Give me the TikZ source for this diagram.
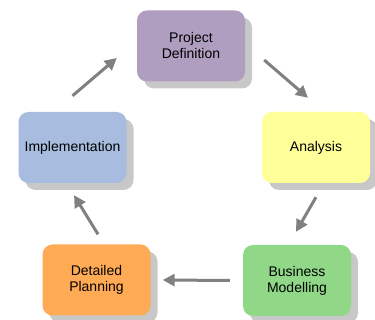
\documentclass[tikz,border=0pt]{standalone}
\usepackage{fontspec}
\setmainfont{Liberation Sans}
\usetikzlibrary{arrows.meta,shadows}

\definecolor{cproj}{RGB}{176,158,192}
\definecolor{cana}{RGB}{255,255,153}
\definecolor{cbus}{RGB}{144,216,136}
\definecolor{cdet}{RGB}{255,170,85}
\definecolor{cimp}{RGB}{168,188,224}
\definecolor{cshadow}{RGB}{200,200,200}
\definecolor{carrow}{RGB}{128,128,128}

\begin{document}
\begin{tikzpicture}[x=1pt,y=1pt,
  phase/.style={rounded corners=10pt,minimum width=108pt,minimum height=71pt,
    align=center,font=\fontsize{14}{16}\selectfont,
    drop shadow={shadow xshift=7pt,shadow yshift=-7pt,fill=cshadow,opacity=1}},
  flow/.style={carrow,line width=3pt,-{Triangle[length=12pt,width=12pt]}}]
  \useasboundingbox (0,0) rectangle (375,320);
  \node[phase,fill=cproj] (proj) at (191,274) {Project\\Definition};
  \node[phase,fill=cana] (ana) at (316,172.5) {Analysis};
  \node[phase,fill=cbus] (bus) at (297,39.5) {Business\\Modelling};
  \node[phase,fill=cdet] (det) at (96.5,40) {Detailed\\Planning};
  \node[phase,fill=cimp] (imp) at (72.5,172.5) {Implementation};
  \draw[flow] ([yshift=16pt]imp.north) -- ([xshift=-20pt,yshift=-12pt]proj.west);
  \draw[flow] ([xshift=19pt,yshift=-14pt]proj.east) -- ([xshift=-8pt,yshift=14pt]ana.north);
  \draw[flow] ([yshift=-14pt]ana.south) -- ([xshift=-1pt,yshift=13pt]bus.north);
  \draw[flow] ([xshift=-13pt]bus.west) -- ([xshift=12pt]det.east);
  \draw[flow] ([xshift=1.5pt,yshift=10pt]det.north) -- ([xshift=1.5pt,yshift=-12pt]imp.south);
\end{tikzpicture}
\end{document}
